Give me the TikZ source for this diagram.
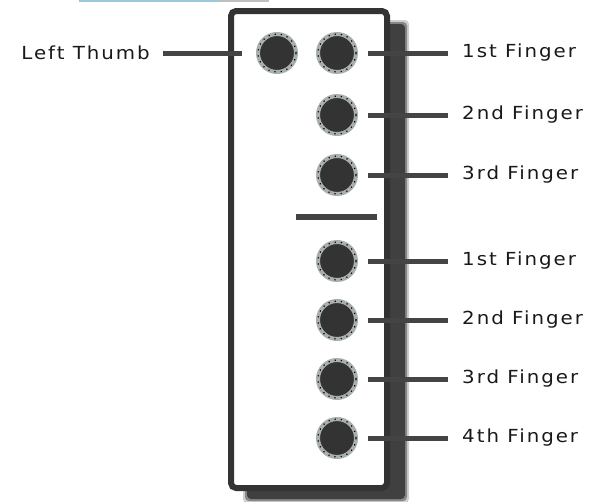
\documentclass[tikz,border=0pt]{standalone}
\usepackage{fontspec}
\usepackage{xcolor}
\usepackage{tikz}

\newfontfamily\keyfont[LetterSpace=11, FakeStretch=1.1]{DejaVu Sans}
\definecolor{keydark}{HTML}{333333}
\definecolor{keyring}{HTML}{A9AFAE}
\definecolor{leadgray}{HTML}{444444}
\definecolor{stripblue}{HTML}{9CC8D8}

\begin{document}
\begin{tikzpicture}[x=1pt,y=-1pt,
    keybtn/.style={circle, minimum size=38pt, inner sep=0pt, fill=keydark, draw=keyring, line width=4pt,
        postaction={draw=black, line width=1.2pt, dash pattern=on 1.2pt off 5pt}},
    keylabel/.style={inner sep=0pt, font=\keyfont\fontsize{18}{21}\selectfont, text=black!90},
    lead/.style={draw=leadgray, line width=5pt}]
    \useasboundingbox (0,0) rectangle (597,501);

    % Strip left over at the top edge
    \fill[stripblue] (79,0) rectangle (219,2);
    \fill[gray!50] (219,0) rectangle (269,2);

    % Shadow behind the panel
    \foreach \s/\o in {4/0.25, 2/0.5, 0/1} {
        \fill[black!75, opacity=\o, rounded corners=4pt] (247-\s,24-\s) rectangle (405+\s,499+\s);
    }
    % The panel
    \draw[line width=6pt, draw=black!80, fill=white, rounded corners=5pt] (231,11) rectangle (387,488);

    % Thumb key
    \node[keybtn] (thumb) at (277,53) {};
    \node[keylabel, anchor=east] (thumbtxt) at (150,53) {Left Thumb};
    \draw[lead, shorten <=13pt, shorten >=14pt] (thumbtxt) -- (thumb);

    % Finger keys
    \foreach \n/\y/\txt in {1/53/1st, 2/115/2nd, 3/175/3rd, 4/261/1st, 5/320/2nd, 6/379/3rd, 7/438/4th} {
        \node[keybtn] (f\n) at (337,\y) {};
        \node[keylabel, anchor=west] (t\n) at (462,\y) {\txt\ Finger};
        \draw[lead, shorten <=10pt, shorten >=14pt] (f\n) -- (t\n);
    }

    % Divider between the two groups
    \draw[lead, line width=6pt] (296,217) -- (377,217);
\end{tikzpicture}
\end{document}
